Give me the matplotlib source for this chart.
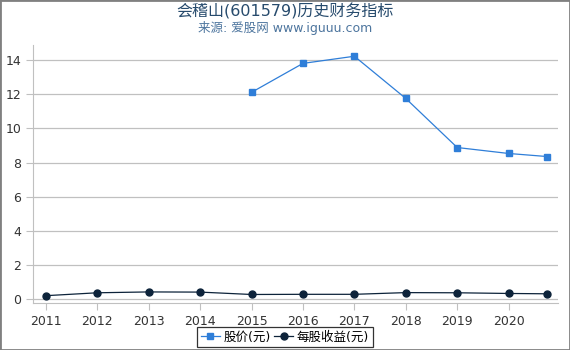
import matplotlib.pyplot as plt
from matplotlib.patches import Rectangle

plt.rcParams['font.family'] = ['DejaVu Sans', 'Noto Sans CJK SC']

years = [2011, 2012, 2013, 2014, 2015, 2016, 2017, 2018, 2019, 2020, 2020.75]
tick_years = [2011, 2012, 2013, 2014, 2015, 2016, 2017, 2018, 2019, 2020]
price = [None, None, None, None, 12.12, 13.82, 14.24, 11.76, 8.88, 8.53, 8.35]
eps = [0.18, 0.35, 0.40, 0.39, 0.25, 0.26, 0.26, 0.36, 0.35, 0.31, 0.29]

price_x = [x for x, v in zip(years, price) if v is not None]
price_y = [v for v in price if v is not None]

fig = plt.figure(figsize=(5.7, 3.5), dpi=100)
ax = fig.add_axes([33 / 570, 1 - 303 / 350, (558 - 33) / 570, (303 - 45) / 350])

ax.plot(price_x, price_y, color='#2f7ed8', lw=0.9, marker='s', ms=5,
        label='股价(元)', zorder=3)
ax.plot(years, eps, color='#0d233a', lw=0.9, marker='o', ms=5,
        label='每股收益(元)', zorder=3)

ax.set_xlim(2010.75, 2020.96)
ax.set_ylim(-0.25, 14.9)
ax.set_xticks(tick_years)
ax.set_yticks(range(0, 15, 2))
ax.yaxis.grid(True, color='#c0c0c0', lw=0.9)
ax.set_axisbelow(True)
for s in ['top', 'right']:
    ax.spines[s].set_visible(False)
ax.spines['left'].set_color('#c0c0c0')
ax.spines['bottom'].set_color('#c0c0c0')
ax.tick_params(axis='both', colors='#c0c0c0', labelcolor='#333333', labelsize=9, length=5)

fig.text(0.5, 1 - 11 / 350, '会稽山(601579)历史财务指标', ha='center', va='center',
         fontsize=11.5, color='#274b6d')
fig.text(0.5, 1 - 28 / 350, '来源: 爱股网 www.iguuu.com', ha='center', va='center',
         fontsize=9, color='#4d759e')

leg = fig.legend(loc='center', bbox_to_anchor=(0.5, 1 - 337 / 350), ncol=2,
                 fontsize=9, frameon=True, fancybox=False, handlelength=1.5,
                 handletextpad=0.3, columnspacing=0.3, borderpad=0.3)
leg.get_frame().set_edgecolor('black')
leg.get_frame().set_linewidth(0.9)

fig.patches.append(Rectangle((0, 0), 1, 1, transform=fig.transFigure, fill=False,
                             edgecolor='#808080', lw=2))

fig.savefig('out.png', dpi=100)
